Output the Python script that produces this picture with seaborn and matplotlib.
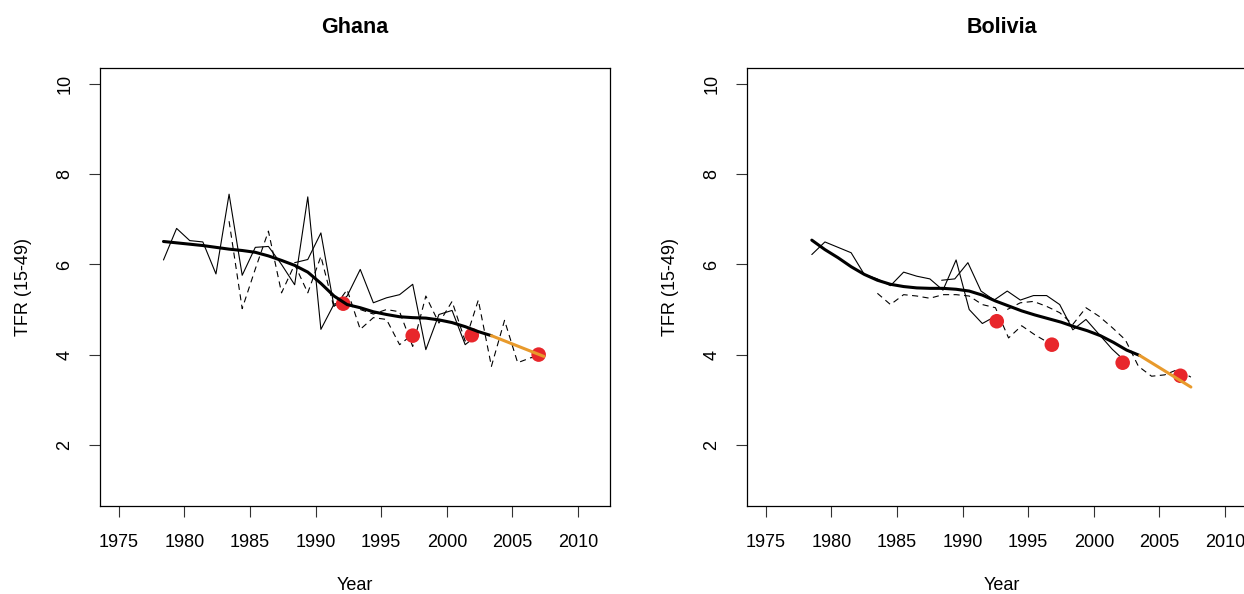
"""TFR estimates by survey for Ghana and Bolivia, R-style two panel plot."""

import matplotlib
matplotlib.use("Agg")
import matplotlib.pyplot as plt
import numpy as np
import seaborn as sns

# --------------------------------------------------------------------------- #
# Data
# --------------------------------------------------------------------------- #
# Ghana: four survey series (annual), alternating solid / dashed
ghana_s1_start = 1978.4
ghana_s1 = [6.10, 6.80, 6.53, 6.50, 5.79, 7.56, 5.76, 6.38, 6.40, 6.00, 5.55, 7.50, 4.56, 5.12, 5.20]
ghana_s2_start = 1983.4
ghana_s2 = [6.96, 5.02, 5.90, 6.74, 5.37, 6.00, 5.37, 6.18, 5.04, 5.44, 4.56, 4.82, 4.78, 4.22, 4.45]
ghana_s3_start = 1988.4
ghana_s3 = [6.04, 6.11, 6.70, 5.07, 5.30, 5.89, 5.15, 5.26, 5.33, 5.56, 4.11, 4.89, 4.98, 4.22, 4.45]
ghana_s4_start = 1993.4
ghana_s4 = [5.00, 4.90, 5.00, 4.95, 4.18, 5.30, 4.70, 5.18, 4.30, 5.21, 3.74, 4.76, 3.82, 3.93, 3.97]

ghana_trend_start = 1978.4
ghana_trend = [6.51, 6.48, 6.45, 6.42, 6.38, 6.34, 6.31, 6.27, 6.19, 6.09, 5.98, 5.83, 5.58,
               5.30, 5.11, 5.04, 4.95, 4.89, 4.84, 4.82, 4.81, 4.77, 4.71, 4.62, 4.51, 4.42]
ghana_proj_years = [2003.4, 2007.4]
ghana_proj = [4.42, 3.96]
ghana_dot_years = [1992.1, 1997.4, 2001.9, 2007.0]
ghana_dots = [5.13, 4.42, 4.43, 4.00]

# Bolivia
bolivia_s1_start = 1978.5
bolivia_s1 = [6.22, 6.50, 6.38, 6.26, 5.78, 5.68, 5.53, 5.83, 5.74, 5.68, 5.43, 6.10, 5.00, 4.69, 4.85]
bolivia_s2_start = 1983.5
bolivia_s2 = [5.36, 5.11, 5.33, 5.30, 5.25, 5.33, 5.33, 5.30, 5.11, 5.04, 4.37, 4.64, 4.44, 4.27]
bolivia_s3_start = 1988.4
bolivia_s3 = [5.65, 5.68, 6.04, 5.41, 5.21, 5.41, 5.21, 5.31, 5.31, 5.11, 4.55, 4.78, 4.45, 4.12, 3.85]
bolivia_s4_start = 1993.4
bolivia_s4 = [5.00, 5.15, 5.18, 5.07, 4.93, 4.67, 5.04, 4.85, 4.60, 4.33, 3.74, 3.52, 3.55, 3.67, 3.50]

bolivia_trend_start = 1978.5
bolivia_trend = [6.54, 6.33, 6.15, 5.95, 5.78, 5.65, 5.56, 5.51, 5.48, 5.47, 5.47, 5.45, 5.41,
                 5.32, 5.19, 5.08, 4.97, 4.88, 4.80, 4.72, 4.62, 4.53, 4.42, 4.27, 4.10, 3.98]
bolivia_proj_years = [2003.5, 2007.4]
bolivia_proj = [3.98, 3.28]
bolivia_dot_years = [1992.6, 1996.8, 2002.2, 2006.6]
bolivia_dots = [4.74, 4.22, 3.82, 3.53]

x_ticks = [1975, 1980, 1985, 1990, 1995, 2000, 2005, 2010]
y_ticks = [2, 4, 6, 8, 10]

RED = "#E8262B"
ORANGE = "#E89A2C"

# --------------------------------------------------------------------------- #
# Style
# --------------------------------------------------------------------------- #
sns.set_theme(style="white")
plt.rcParams.update({
    "font.family": ["Liberation Sans", "DejaVu Sans"],
    "text.color": "black",
    "axes.labelcolor": "black",
    "axes.edgecolor": "black",
    "axes.linewidth": 0.9,
    "xtick.color": "#333333",
    "ytick.color": "#333333",
    "xtick.labelcolor": "black",
    "ytick.labelcolor": "black",
})


def years_from(start, values):
    return np.arange(len(values)) + start


def draw_panel(ax, title, series, trend_start, trend, proj_years, proj, dot_years, dots):
    styles = ["-", (0, (5.5, 4)), "-", (0, (5.5, 4))]
    for (start, vals), ls in zip(series, styles):
        sns.lineplot(x=years_from(start, vals), y=vals, ax=ax, color="black",
                     linewidth=0.8, linestyle=ls, sort=False, errorbar=None)
    sns.scatterplot(x=dot_years, y=dots, ax=ax, color=RED, s=110, edgecolor="none", zorder=3)
    sns.lineplot(x=years_from(trend_start, trend), y=trend, ax=ax, color="black",
                 linewidth=2.2, sort=False, errorbar=None, zorder=4)
    sns.lineplot(x=proj_years, y=proj, ax=ax, color=ORANGE, linewidth=2.2,
                 sort=False, errorbar=None, zorder=5)

    ax.set_xlim(1973.56, 2012.44)
    ax.set_ylim(0.64, 10.36)
    ax.set_xticks(x_ticks)
    ax.set_yticks(y_ticks)
    ax.tick_params(axis="both", direction="out", length=8, width=0.8, labelsize=13,
                   bottom=True, left=True)
    ax.tick_params(axis="x", pad=12)
    ax.tick_params(axis="y", pad=11)
    for lab in ax.get_yticklabels():
        lab.set_rotation(90)
        lab.set_va("center")
    ax.set_title(title, fontsize=15.5, fontweight="bold", pad=25)
    ax.set_xlabel("Year", fontsize=13, labelpad=19)
    ax.set_ylabel("TFR (15-49)", fontsize=13, labelpad=18)
    for sp in ax.spines.values():
        sp.set_visible(True)
        sp.set_color("black")


fig = plt.figure(figsize=(12.44, 5.94), dpi=100)
ax1 = fig.add_axes([100 / 1244, 1 - 506 / 594, 510 / 1244, 438 / 594])
ax2 = fig.add_axes([747 / 1244, 1 - 506 / 594, 510 / 1244, 438 / 594])

draw_panel(ax1, "Ghana",
           [(ghana_s1_start, ghana_s1), (ghana_s2_start, ghana_s2),
            (ghana_s3_start, ghana_s3), (ghana_s4_start, ghana_s4)],
           ghana_trend_start, ghana_trend, ghana_proj_years, ghana_proj,
           ghana_dot_years, ghana_dots)
draw_panel(ax2, "Bolivia",
           [(bolivia_s1_start, bolivia_s1), (bolivia_s2_start, bolivia_s2),
            (bolivia_s3_start, bolivia_s3), (bolivia_s4_start, bolivia_s4)],
           bolivia_trend_start, bolivia_trend, bolivia_proj_years, bolivia_proj,
           bolivia_dot_years, bolivia_dots)

fig.savefig("out.png", dpi=100)
